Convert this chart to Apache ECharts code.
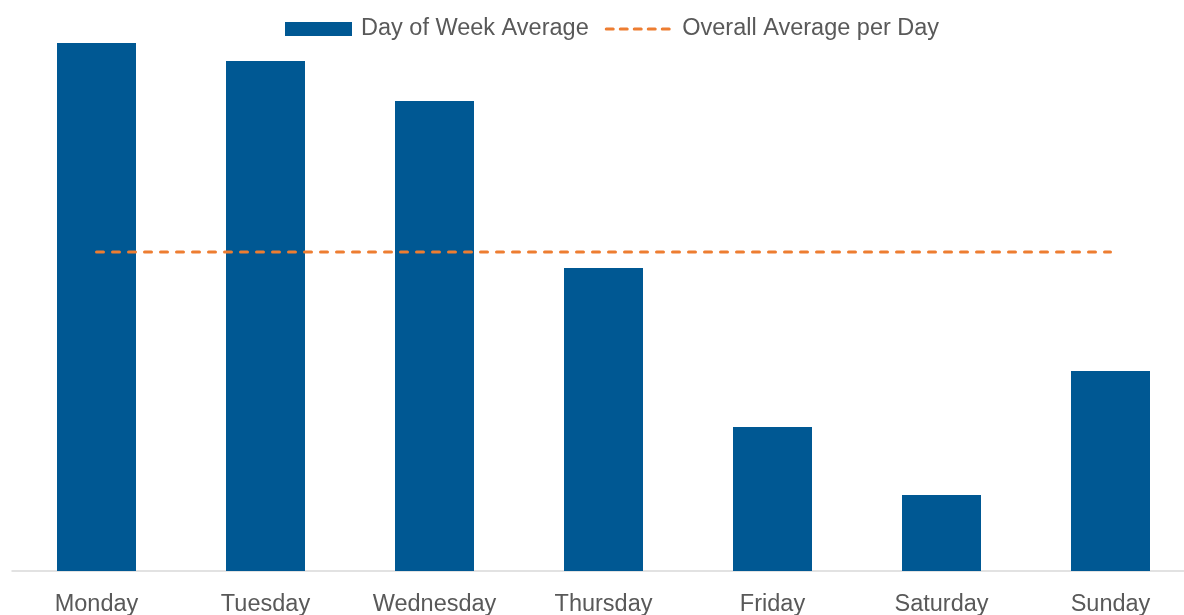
<!DOCTYPE html>
<html>
<head>
<meta charset="utf-8">
<script src="https://cdn.jsdelivr.net/npm/echarts@6/dist/echarts.min.js"></script>
<style>
  html, body { margin: 0; padding: 0; background: #fff; }
  #chart { width: 1184px; height: 615px; }
</style>
</head>
<body>
<div id="chart"></div>
<script>
// 数据（数值按图中柱高读出，无纵轴刻度）
const days = ['Monday', 'Tuesday', 'Wednesday', 'Thursday', 'Friday', 'Saturday', 'Sunday']
const dayAverage = [528, 510, 470, 303, 144, 76, 200]
const overallAverage = [319, 319, 319, 319, 319, 319, 319]

const chart = echarts.init(document.getElementById('chart'))

const option = {
  animation: false,
  textStyle: { fontFamily: 'Liberation Sans, Arial, sans-serif' },
  legend: {
    top: 12,
    left: 280,
    itemWidth: 67,
    itemHeight: 14,
    itemGap: 16,
    textStyle: { color: '#595959', fontSize: 23.5, padding: [0, 0, 0, 4] },
    data: [
      { name: 'Day of Week Average', icon: 'rect' },
      {
        name: 'Overall Average per Day',
        itemStyle: { opacity: 0 },
        lineStyle: { width: 3, type: [7, 7], cap: 'round', color: '#ed7d31' }
      }
    ]
  },
  grid: { left: 12, right: -11, top: 43, bottom: 44, outerBoundsMode: 'none', containLabel: false },
  xAxis: {
    type: 'category',
    data: days,
    axisTick: { show: false },
    axisLine: { lineStyle: { color: '#d9d9d9', width: 1.5 } },
    axisLabel: { color: '#595959', fontSize: 23.5, margin: 22 }
  },
  yAxis: {
    type: 'value',
    min: 0,
    max: 528,
    show: false,
    splitLine: { show: false }
  },
  series: [
    {
      name: 'Day of Week Average',
      type: 'bar',
      data: dayAverage,
      barWidth: 79,
      itemStyle: { color: '#005893' }
    },
    {
      name: 'Overall Average per Day',
      type: 'line',
      data: overallAverage,
      symbol: 'none',
      itemStyle: { color: '#ed7d31' },
      lineStyle: { color: '#ed7d31', width: 3, type: [7, 9], cap: 'round' }
    }
  ]
}

chart.setOption(option)
</script>
</body>
</html>
